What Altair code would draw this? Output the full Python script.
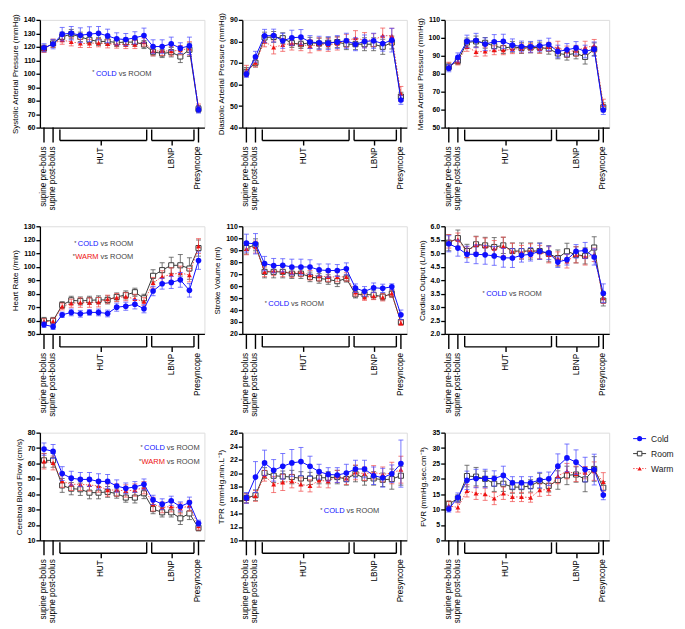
import altair as alt
import pandas as pd

# ---------------- data ----------------
idx = list(range(18))
series_names = ["Cold", "Room", "Warm"]

x_single_pos = [0, 1, 17]
x_single_labels = ["supine pre-bolus", "supine post-bolus", "Presyncope"]
x_group_start = [1.75, 11.85]
x_group_end = [11.3, 16.5]
x_group_mid = [6.3, 14.1]
x_group_labels = ["HUT", "LBNP"]

sap_cold = [119.3,122.0,129.4,130.1,128.6,129.4,130.1,128.1,125.9,125.4,126.7,128.4,120.2,120.2,122.2,119.0,120.7,73.3]
sap_room = [118.8,122.5,127.4,129.4,127.4,125.2,124.0,124.0,123.2,123.5,123.5,121.7,116.3,115.0,116.0,112.8,117.8,73.8]
sap_warm = [118.3,122.7,124.9,123.7,122.5,122.5,123.0,122.2,122.0,121.7,121.7,123.5,116.8,117.0,116.8,117.5,118.8,75.5]
sap_cold_err = [3,3.5,5,5,5.5,5.5,5,5,4.5,4.5,4.5,5.5,5,5,5,4,6.5,2.5]
sap_room_err = [2.5,3,3.5,3.5,3.5,3,3,3,3,3,3,3,3,3,3.5,4.5,5,2.5]
sap_warm_err = [2.5,3,3,3,3,3,3,3,3,3,3,3,3.5,3.5,3.5,3.5,5,2]

dap_cold = [64.8,72.9,82.6,82.7,80.3,81.7,82.0,79.7,79.4,79.2,79.7,80.3,78.7,80.0,80.3,79.0,80.6,52.8]
dap_room = [65.9,70.1,81.8,82.1,81.5,79.2,78.7,79.4,79.0,79.4,79.7,78.7,78.7,78.7,78.7,77.5,79.5,54.4]
dap_warm = [66.4,70.2,80.0,77.2,78.4,79.0,78.7,77.7,78.7,78.4,79.0,80.3,81.5,80.6,80.6,82.7,82.6,55.6]
dap_cold_err = [1.5,2.5,3,3,3.5,3.5,3.5,3,3,3,3,3.5,3,3,3.5,3.5,5.5,2]
dap_room_err = [2,2,2.5,2.5,2.5,2,2,2.5,2.5,2.5,2.5,2.5,2.5,3,3,3.5,3,2]
dap_warm_err = [2.5,2,2.5,3,3,3,3,3,3,3,3,3,3.5,3.5,3,3.5,3.5,3.5]

map_cold = [83.1,89.1,98.0,98.5,96.5,97.8,98.0,95.9,95.2,95.0,95.6,96.3,92.4,93.3,94.4,92.4,93.7,59.8]
map_room = [83.9,87.2,97.4,98.0,97.2,95.4,94.3,95.0,94.3,94.6,94.6,93.9,91.3,90.6,91.3,89.4,93.7,61.3]
map_warm = [84.4,86.9,95.0,92.2,92.4,93.1,93.1,93.7,94.1,94.3,93.9,95.0,94.6,92.4,92.8,94.6,95.6,62.8]
map_cold_err = [2,2.5,3.5,4,3.5,4,4,3.5,3,3,3,3.5,3.5,3.5,3.5,3.5,4,2.5]
map_room_err = [2,2,2.5,3,3,3,3,3,3,3,3,3,3,3,3,4,3.5,2.5]
map_warm_err = [2,2,2.5,2.5,2.5,2.5,2.5,2.5,2.5,2.5,2.5,2.5,3.5,3,3,3.5,3.5,3]

hr_cold = [56.9,55.4,64.2,66.0,65.0,66.0,66.0,65.2,69.9,70.6,72.1,68.7,81.9,87.3,88.3,90.2,82.4,104.5]
hr_room = [59.8,59.8,71.5,75.0,74.5,75.0,75.3,75.3,77.5,79.0,81.0,76.5,93.2,97.4,101.0,101.0,98.6,113.8]
hr_warm = [59.3,59.3,70.4,72.8,73.3,73.3,73.6,75.8,77.0,77.7,76.0,74.0,88.0,92.5,94.2,95.4,93.7,115.3]
hr_cold_err = [2,2,2,2.5,2.5,2,2.5,2.5,3,3,3.5,3,3.5,4,4.5,5.5,5,6.5]
hr_room_err = [2.5,2.5,2.5,3,3,3,3,3,3,3,3,3,4.5,5.5,6,8,8,6]
hr_warm_err = [2,2.5,2.5,3,3.5,3.5,3.5,3,3,3,3.5,3,4,4.5,5,5,5,5.5]

sv_cold = [95.9,95.4,78.8,77.1,77.4,76.0,76.0,76.0,73.5,73.0,73.0,74.4,58.3,55.6,58.6,58.1,59.4,36.0]
sv_room = [91.8,94.5,71.9,71.9,71.9,70.4,70.4,67.7,66.4,65.5,64.1,66.4,53.1,53.1,52.5,51.2,53.6,29.9]
sv_warm = [91.2,92.6,71.9,72.7,71.9,71.3,71.9,69.1,68.3,67.7,67.7,67.7,54.8,50.6,51.7,50.6,53.9,29.1]
sv_cold_err = [7.5,8.5,6,6,5.5,6.5,6.5,6,5,5.5,5,5,3.5,4,4,3.5,2.5,4]
sv_room_err = [5,5,5,5,5,4,4,4,4,4,4.5,3,3,3,3.5,3,3,2]
sv_warm_err = [5,5,4,4,4,4,4,4,4,4,4,3.5,3,2.5,3,3,3,2]

co_cold = [5.35,5.19,4.96,4.96,4.94,4.90,4.83,4.82,4.92,4.96,5.07,5.01,4.67,4.76,5.07,5.10,4.86,3.51]
co_room = [5.39,5.56,5.08,5.33,5.29,5.23,5.29,5.08,5.08,5.08,5.08,4.98,4.82,5.07,4.94,4.90,5.21,3.24]
co_warm = [5.44,5.50,5.04,5.31,5.26,5.17,5.25,5.07,5.04,5.10,5.04,4.94,4.80,4.70,4.94,4.86,4.94,3.33]
co_cold_err = [0.3,0.3,0.3,0.35,0.35,0.35,0.35,0.35,0.25,0.25,0.3,0.25,0.2,0.2,0.25,0.3,0.3,0.35]
co_room_err = [0.3,0.3,0.25,0.3,0.3,0.35,0.3,0.3,0.3,0.3,0.3,0.3,0.3,0.3,0.3,0.3,0.4,0.2]
co_warm_err = [0.25,0.25,0.2,0.3,0.3,0.3,0.35,0.3,0.25,0.25,0.25,0.3,0.25,0.25,0.3,0.3,0.25,0.2]

cbf_cold = [69.3,67.8,53.4,50.4,49.6,49.6,48.3,48.3,45.3,43.8,44.7,46.4,36.3,33.5,35.7,32.0,34.6,21.1]
cbf_room = [62.0,62.0,45.7,43.6,43.2,41.0,41.0,41.5,40.4,37.8,37.8,40.6,30.3,28.2,28.2,24.3,27.5,18.1]
cbf_warm = [61.4,60.3,48.5,46.4,46.4,46.0,45.3,42.7,42.7,42.1,42.7,44.2,33.5,31.4,32.0,30.7,32.5,19.2]
cbf_cold_err = [4,4.5,4.5,4.5,4.5,4.5,5,4.5,4,3.5,3.5,3.5,3,3.5,3,3,3.5,2]
cbf_room_err = [4.5,4.5,4.5,4,4,4,4,3.5,3,3,3.5,3.5,3,3,3,4,4,2]
cbf_warm_err = [5,4.5,4,4,4,4,4,4,4,4,4,4,4.5,3.5,3.5,3.5,3.5,2.5]

tpr_cold = [16.3,19.4,21.5,20.4,21.0,21.5,21.7,21.0,20.2,19.8,19.7,20.0,20.6,20.6,19.6,19.3,19.9,21.4]
tpr_room = [16.3,16.7,20.0,19.6,19.5,19.4,19.2,19.2,19.3,19.3,19.4,19.1,19.9,19.2,19.2,19.0,19.1,19.6]
tpr_warm = [16.2,16.6,19.6,18.3,18.6,18.8,18.3,18.1,18.9,18.8,19.5,19.2,20.1,19.9,20.1,19.8,20.0,20.5]
tpr_cold_err = [0.8,2.3,1.9,1.6,1.9,2,2.1,1.5,1.1,1,1.1,1.3,1.3,1.3,1.3,1.4,1.3,3.5]
tpr_room_err = [0.7,0.8,0.8,1,0.8,1,1,0.9,0.9,0.9,1,0.9,1.2,1,1,1,1.5,1.4]
tpr_warm_err = [0.7,0.8,0.8,1.2,1.2,1,1,0.9,1,1,0.9,0.9,1.1,1,1,1.1,1.6,2]

fvr_cold = [10.2,13.9,19.5,20.1,20.1,20.1,21.1,18.7,18.7,18.7,19.6,20.0,24.1,26.8,25.4,23.0,23.0,14.7]
fvr_room = [11.8,13.6,20.9,20.7,20.0,18.4,18.4,17.3,17.3,17.7,19.3,17.7,19.6,21.1,21.4,19.8,23.2,17.1]
fvr_warm = [11.2,10.7,16.1,15.3,15.0,13.6,15.3,14.1,14.1,13.9,16.3,16.6,20.9,22.5,21.6,22.0,22.5,19.0]
fvr_cold_err = [1,1.5,3,3,3,2.5,3,2,2,2,2.5,2.2,4,4.5,4,4,5,1.5]
fvr_room_err = [1,1.2,3.5,3,2.5,2.5,2.5,2,2,2,2.5,2,3,3,2.5,4,4,2]
fvr_warm_err = [1.5,1.5,2,2,2,2,2,1.5,1.5,1.5,2,2,2.5,2.5,2.5,2,3,3]

# annotations: (coloured word, colour key, x split, y)
PANELS = [
    dict(title="Systolic Arterial Pressure (mmHg)", domain=[60, 140], step=10, fmt="d",
         vals=[sap_cold, sap_room, sap_warm], errs=[sap_cold_err, sap_room_err, sap_warm_err],
         notes=[("COLD", "Cold", 8.0, 100)]),
    dict(title="Diastolic Arterial Pressure (mmHg)", domain=[40, 90], step=10, fmt="d",
         vals=[dap_cold, dap_room, dap_warm], errs=[dap_cold_err, dap_room_err, dap_warm_err],
         notes=[]),
    dict(title="Mean Arterial Pressure (mmHg)", domain=[50, 110], step=10, fmt="d",
         vals=[map_cold, map_room, map_warm], errs=[map_cold_err, map_room_err, map_warm_err],
         notes=[]),
    dict(title="Heart Rate (/min)", domain=[50, 130], step=10, fmt="d",
         vals=[hr_cold, hr_room, hr_warm], errs=[hr_cold_err, hr_room_err, hr_warm_err],
         notes=[("COLD", "Cold", 6.0, 116.7), ("WARM", "Warm", 6.0, 107)]),
    dict(title="Stroke Volume (ml)", domain=[20, 110], step=10, fmt="d",
         vals=[sv_cold, sv_room, sv_warm], errs=[sv_cold_err, sv_room_err, sv_warm_err],
         notes=[("COLD", "Cold", 4.7, 45)]),
    dict(title="Cardiac Output (L/min)", domain=[2.0, 6.0], step=0.5, fmt=".1f",
         vals=[co_cold, co_room, co_warm], errs=[co_cold_err, co_room_err, co_warm_err],
         notes=[("COLD", "Cold", 6.4, 3.48)]),
    dict(title="Cerebral Blood Flow (cm/s)", domain=[10, 80], step=10, fmt="d",
         vals=[cbf_cold, cbf_room, cbf_warm], errs=[cbf_cold_err, cbf_room_err, cbf_warm_err],
         notes=[("COLD", "Cold", 13.3, 69.7), ("WARM", "Warm", 13.3, 60.7)]),
    dict(title="TPR (mmHg.min.L\u207b\u00b9)", domain=[10, 26], step=2, fmt="d",
         vals=[tpr_cold, tpr_room, tpr_warm], errs=[tpr_cold_err, tpr_room_err, tpr_warm_err],
         notes=[("COLD", "Cold", 10.8, 14.3)]),
    dict(title="FVR (mmHg.sec.cm\u207b\u00b9)", domain=[0, 35], step=5, fmt="d",
         vals=[fvr_cold, fvr_room, fvr_warm], errs=[fvr_cold_err, fvr_room_err, fvr_warm_err],
         notes=[]),
]

# ---------------- style ----------------
W, H = 165, 108
XDOM = [-0.45, 17.65]
COL = {"Cold": "#0f0fff", "Room": "#3a3a3a", "Warm": "#ee1111"}
ERRCOL = {"Cold": "#4d4dff", "Room": "#555555", "Warm": "#f05050"}
FONT = "Liberation Sans"
WORD_PX = {"COLD": 22.3, "WARM": 23.8}


def marker(base, s, scale=1.0):
    if s == "Cold":
        return base.mark_point(shape="circle", filled=True, size=32 * scale, color=COL[s], opacity=1)
    if s == "Room":
        return base.mark_point(shape="square", filled=True, size=26 * scale, fill="white",
                               stroke=COL[s], strokeWidth=1, opacity=1)
    return base.mark_point(shape="triangle-up", filled=True, size=24 * scale, color=COL[s], opacity=1)


def make_panel(p, legend=False):
    rows = []
    for s, v, e in zip(series_names, p["vals"], p["errs"]):
        for i, (vv, ee) in enumerate(zip(v, e)):
            rows.append({"idx": idx[i], "val": vv, "lo": vv - ee, "hi": vv + ee, "series": s})
    df = pd.DataFrame(rows)

    d0, d1 = p["domain"]
    n = int(round((d1 - d0) / p["step"]))
    tick_vals = [round(d0 + k * p["step"], 3) for k in range(n + 1)]
    xs = alt.Scale(domain=XDOM, nice=False, zero=False)
    xaxis = alt.Axis(labels=False, ticks=False, grid=False, title=None, domain=True,
                     domainColor="black", domainWidth=1.3)
    ys = alt.Scale(domain=p["domain"], nice=False, zero=False)
    yaxis = alt.Axis(values=tick_vals, format=p["fmt"], title=p["title"], grid=False,
                     domainColor="black", domainWidth=1.3, tickColor="black", tickWidth=1.3,
                     tickSize=4, labelFont=FONT, labelFontSize=7, labelFontWeight="bold",
                     labelColor="black", labelPadding=1, titleFont=FONT, titleFontSize=8,
                     titleFontWeight="normal", titleColor="black", titlePadding=4)

    X = lambda: alt.X("idx:Q", scale=xs, axis=xaxis)
    layers = []
    for s in ["Room", "Warm", "Cold"]:
        base = alt.Chart(df[df.series == s])
        op = 0.75 if s != "Room" else 0.8
        layers.append(base.mark_rule(color=ERRCOL[s], strokeWidth=1, opacity=op).encode(
            x=X(), y=alt.Y("lo:Q", scale=ys, axis=yaxis), y2="hi:Q"))
        for f in ["lo", "hi"]:
            layers.append(base.mark_tick(orient="horizontal", size=5, thickness=1,
                                         color=ERRCOL[s], opacity=op).encode(
                x=X(), y=alt.Y(f + ":Q", scale=ys, axis=yaxis)))
        if s == "Warm":
            ln = base.mark_line(color=COL[s], strokeWidth=1, strokeDash=[1.5, 1.5], opacity=0.7)
        else:
            ln = base.mark_line(color=COL[s], strokeWidth=1)
        layers.append(ln.encode(x=X(), y=alt.Y("val:Q", scale=ys, axis=yaxis)))
        layers.append(marker(base, s).encode(x=X(), y=alt.Y("val:Q", scale=ys, axis=yaxis)))

    # x-axis bracket decorations
    sdf = pd.DataFrame({"x": x_single_pos, "label": x_single_labels})
    gdf = pd.DataFrame({"x": x_group_start, "x2": x_group_end, "xm": x_group_mid, "label": x_group_labels})
    lw = 1.4
    layers.append(alt.Chart(sdf).mark_rule(color="black", strokeWidth=lw).encode(
        x=alt.X("x:Q", scale=xs), y=alt.value(H), y2=alt.value(H + 15)))
    layers.append(alt.Chart(gdf).mark_rule(color="black", strokeWidth=lw).encode(
        x=alt.X("x:Q", scale=xs), y=alt.value(H + 2), y2=alt.value(H + 13)))
    layers.append(alt.Chart(gdf).mark_rule(color="black", strokeWidth=lw).encode(
        x=alt.X("x2:Q", scale=xs), y=alt.value(H + 2), y2=alt.value(H + 13)))
    layers.append(alt.Chart(gdf).mark_rule(color="black", strokeWidth=lw).encode(
        x=alt.X("x:Q", scale=xs), x2="x2:Q", y=alt.value(H + 13)))
    layers.append(alt.Chart(gdf).mark_rule(color="black", strokeWidth=lw).encode(
        x=alt.X("xm:Q", scale=xs), y=alt.value(H + 13), y2=alt.value(H + 18)))
    txt = dict(angle=270, align="right", baseline="middle", font=FONT, fontSize=8.2,
               fontWeight="normal", color="black")
    layers.append(alt.Chart(sdf).mark_text(**txt).encode(
        x=alt.X("x:Q", scale=xs), y=alt.value(H + 19), text="label:N"))
    layers.append(alt.Chart(gdf).mark_text(**txt).encode(
        x=alt.X("xm:Q", scale=xs), y=alt.value(H + 20), text="label:N"))

    # significance annotations
    for word, key, xx, yy in p["notes"]:
        ndf = pd.DataFrame({"x": [xx], "y": [yy], "s": ["*"], "a": [word], "b": ["vs ROOM"]})
        nb = alt.Chart(ndf)
        Xn = alt.X("x:Q", scale=xs)
        Yn = alt.Y("y:Q", scale=ys, axis=yaxis)
        layers.append(nb.mark_text(align="right", baseline="middle", font=FONT, fontSize=7.5,
                                   color=COL[key]).encode(x=Xn, y=Yn, text="a:N"))
        # small superscript asterisk before the coloured word
        layers.append(nb.mark_text(align="right", baseline="middle", font=FONT, fontSize=5.5,
                                   color="#333333", dx=-WORD_PX[word], dy=-1.5).encode(x=Xn, y=Yn, text="s:N"))
        layers.append(nb.mark_text(align="left", baseline="middle", font=FONT, fontSize=7.5,
                                   color="#444444", dx=2).encode(x=Xn, y=Yn, text="b:N"))

    if legend:
        one = pd.DataFrame({"k": [0]})
        for j, s in enumerate(series_names):
            yy = 6 + 15 * j
            lb = alt.Chart(one)
            if s == "Warm":
                layers.append(lb.mark_rule(color=COL[s], strokeWidth=1, strokeDash=[1.5, 1.5], opacity=0.7).encode(
                    x=alt.value(W + 24), x2=alt.value(W + 37), y=alt.value(yy)))
            else:
                layers.append(lb.mark_rule(color=COL[s], strokeWidth=1).encode(
                    x=alt.value(W + 24), x2=alt.value(W + 37), y=alt.value(yy)))
            layers.append(marker(lb, s, 0.8).encode(x=alt.value(W + 30.5), y=alt.value(yy)))
            layers.append(lb.mark_text(align="left", baseline="middle", font=FONT, fontSize=8.5,
                                       color="#222222").encode(
                x=alt.value(W + 42), y=alt.value(yy), text=alt.value(s)))

    return alt.layer(*layers).properties(width=W, height=H)


panels = [make_panel(p, legend=(k == 8)) for k, p in enumerate(PANELS)]

chart = alt.concat(*panels, columns=3, spacing={"row": 99, "column": 38}, bounds="flush").properties(
    padding={"left": 2, "top": 2, "right": 2, "bottom": 2}
).configure_view(stroke=None).configure(font=FONT)

chart.save("out.html", embed_options={"renderer": "svg", "actions": False})
